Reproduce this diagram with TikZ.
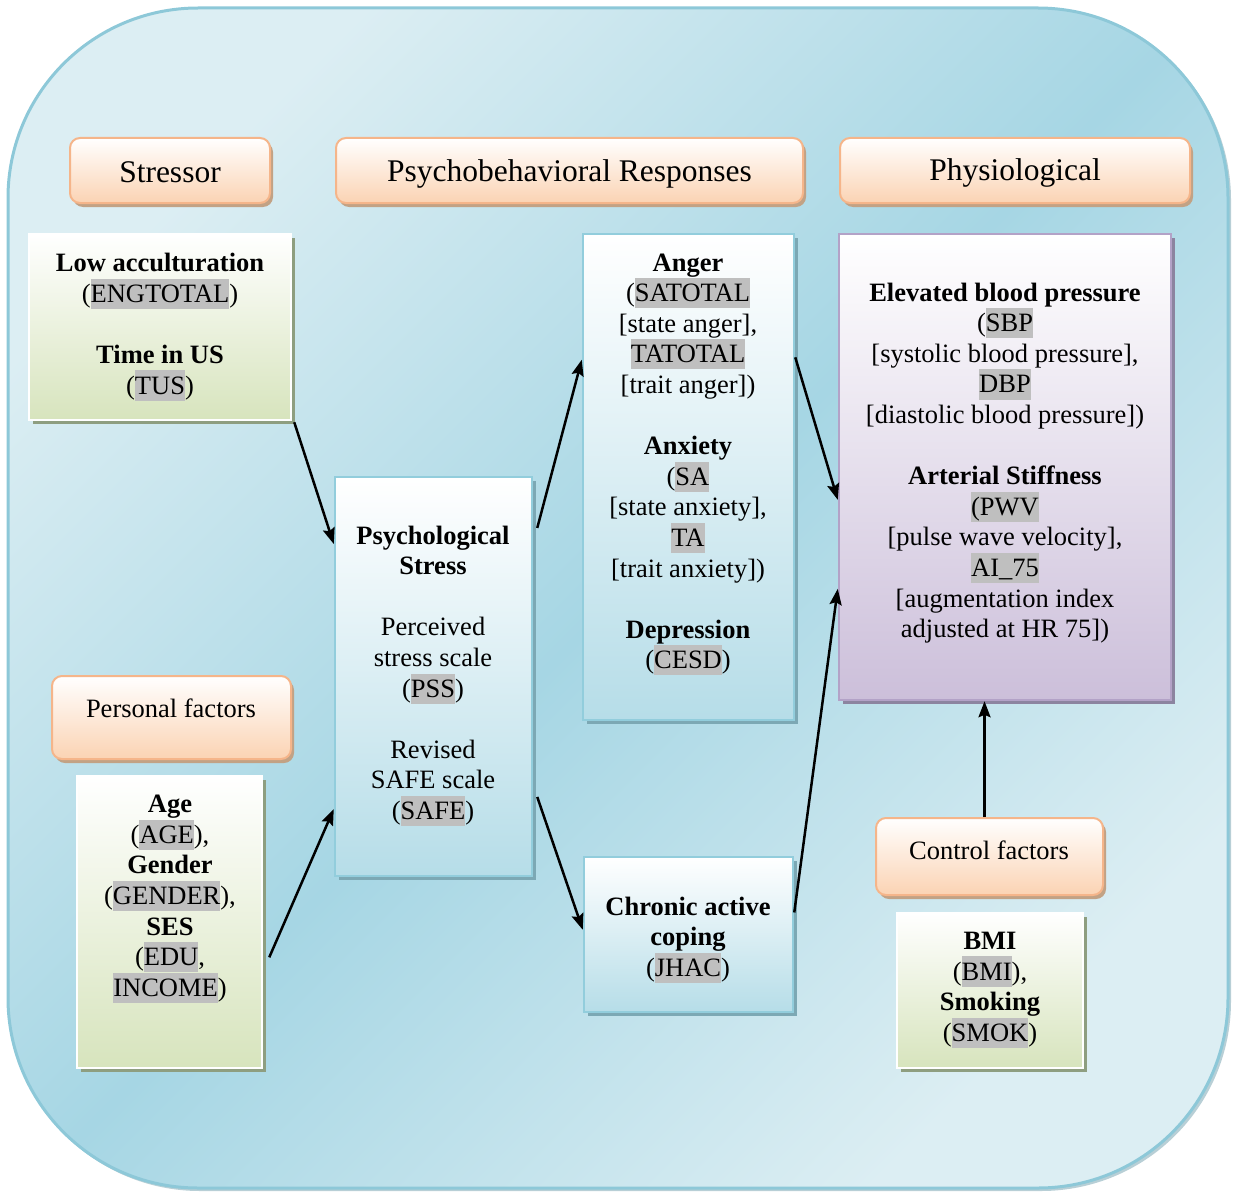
\documentclass[tikz,border=0pt]{standalone}
\usepackage{fontspec}
\setmainfont{Liberation Serif}
\usetikzlibrary{arrows.meta,calc,shadows}
\definecolor{hlgray}{HTML}{BFBFBF}
\definecolor{bglight}{HTML}{DCEEF3}
\definecolor{bgdark}{HTML}{A6D6E4}
\definecolor{bgborder}{HTML}{8DC8D8}
\definecolor{hdrfill}{HTML}{FBD3B3}
\definecolor{hdrborder}{HTML}{F5B58A}
\definecolor{hdrshadow}{HTML}{C2A285}
\definecolor{grnfill}{HTML}{D7E4BD}
\definecolor{grnshadow}{HTML}{8E9E80}
\definecolor{bluefill}{HTML}{B6DDE8}
\definecolor{blueborder}{HTML}{92CDDC}
\definecolor{blueshadow}{HTML}{7CA8B4}
\definecolor{purfill}{HTML}{CCBFDA}
\definecolor{purborder}{HTML}{B3A2C7}
\definecolor{purshadow}{HTML}{8C84A0}
\newcommand\hl[1]{{\setlength{\fboxsep}{0pt}\colorbox{hlgray}{\rule[-0.25em]{0pt}{1.14em}#1}}}
\newcommand\bodyfont{\fontsize{26.5}{30.6}\selectfont\lineskiplimit=-30pt}
\newcommand\hdrfont{\fontsize{31.5}{36}\selectfont}
\tikzset{
  hdrbox/.style={draw=hdrborder, line width=2pt, rounded corners=10pt,
    top color=white, bottom color=hdrfill, inner sep=0pt,
    drop shadow={shadow xshift=3pt, shadow yshift=-4pt, fill=hdrshadow, opacity=1}},
  grnbox/.style={draw=white, line width=2.5pt, top color=white, bottom color=grnfill, inner sep=0pt,
    drop shadow={shadow xshift=4pt, shadow yshift=-4pt, fill=grnshadow, opacity=1}},
  bluebox/.style={draw=blueborder, line width=2.5pt, top color=white, bottom color=bluefill, inner sep=0pt,
    drop shadow={shadow xshift=4pt, shadow yshift=-4pt, fill=blueshadow, opacity=1}},
  purbox/.style={draw=purborder, line width=2.5pt, top color=white, bottom color=purfill, inner sep=0pt,
    drop shadow={shadow xshift=4pt, shadow yshift=-4pt, fill=purshadow, opacity=1}},
  hdrtxt/.style={font=\hdrfont, inner sep=0pt, align=center},
  smalltxt/.style={font=\bodyfont, inner sep=0pt, align=center},
  bodytxt/.style={font=\bodyfont, inner sep=0pt, align=center},
  arr/.style={line width=2.5pt, -{Stealth[length=16pt,width=12pt,inset=2.5pt]}}
}
\begin{document}
\begin{tikzpicture}[x=1pt,y=-1pt]
\useasboundingbox (0,0) rectangle (1233,1193);
% background
\fill[bgborder!80!black, opacity=0.5, rounded corners=190pt] (10,10) rectangle (1231,1191);
\draw[draw=bgborder, line width=3pt, rounded corners=190pt,
  top color=bglight, bottom color=bglight, middle color=bgdark, shading angle=45]
  (8,8) rectangle (1228,1188);

% headers
\node[hdrbox, minimum width=200pt, minimum height=65pt] (hS) at (170,170.5) {};
\node[hdrtxt] (hStxt) at (170,172) {Stressor};
\node[hdrbox, minimum width=467pt, minimum height=65pt] (hP) at (569.5,170.5) {};
\node[hdrtxt] (hPtxt) at (569.5,174) {Psychobehavioral Responses};
\node[hdrbox, minimum width=350pt, minimum height=65pt] (hPh) at (1015,170.5) {};
\node[hdrtxt] (hPhtxt) at (1015,173) {Physiological};
\node[hdrbox, minimum width=239pt, minimum height=83pt] (hPF) at (171.5,717.5) {};
\node[smalltxt] (hPFtxt) at (171,708) {Personal factors};
\node[hdrbox, minimum width=227pt, minimum height=77pt] (hC) at (989.5,856.5) {};
\node[smalltxt] (hCtxt) at (989,850) {Control factors};

% content boxes
\node[grnbox, minimum width=262pt, minimum height=186pt] (low) at (160,327) {};
\node[bodytxt] (lowtxt) at (160,327) {\textbf{Low acculturation}\\(\hl{ENGTOTAL})\\[30.6pt]\textbf{Time in US}\\(\hl{TUS})};

\node[grnbox, minimum width=185pt, minimum height=292pt] (age) at (169.5,922) {};
\node[bodytxt] (agetxt) at (170,899) {\textbf{Age}\\(\hl{AGE}),\\\textbf{Gender}\\(\hl{GENDER}),\\\textbf{SES}\\(\hl{EDU},\\\hl{INCOME})};

\node[grnbox, minimum width=186pt, minimum height=155pt] (bmi) at (990,990.5) {};
\node[bodytxt] (bmitxt) at (990,990) {\textbf{BMI}\\(\hl{BMI}),\\\textbf{Smoking}\\(\hl{SMOK})};

\node[bluebox, minimum width=197pt, minimum height=399pt] (stress) at (433.5,676.5) {};
\node[bodytxt] (stresstxt) at (433,676) {\textbf{Psychological}\\\textbf{Stress}\\[30.6pt]Perceived\\stress scale\\(\hl{PSS})\\[30.6pt]Revised\\SAFE scale\\(\hl{SAFE})};

\node[bluebox, minimum width=211pt, minimum height=486pt] (anger) at (688.5,477) {};
\node[bodytxt] (angertxt) at (688,464.5) {\textbf{Anger}\\(\hl{SATOTAL}\\{[}state anger],\\\hl{TATOTAL}\\{[}trait anger])\\[30.6pt]\textbf{Anxiety}\\(\hl{SA}\\{[}state anxiety],\\\hl{TA}\\{[}trait anxiety])\\[30.6pt]\textbf{Depression}\\(\hl{CESD})};

\node[bluebox, minimum width=209pt, minimum height=155pt] (coping) at (688.5,934.5) {};
\node[bodytxt] (copingtxt) at (688,940) {\textbf{Chronic active}\\\textbf{coping}\\(\hl{JHAC})};

\node[purbox, minimum width=332pt, minimum height=466pt] (physio) at (1005,467) {};
\node[bodytxt] (physiotxt) at (1005,463) {\textbf{Elevated blood pressure}\\(\hl{SBP}\\{[}systolic blood pressure],\\\hl{DBP}\\{[}diastolic blood pressure])\\[30.6pt]\textbf{Arterial Stiffness}\\\hl{(PWV}\\{[}pulse wave velocity],\\\hl{AI\_75}\\{[}augmentation index\\adjusted at HR 75])};

% arrows
\draw[arr] ([shift={(2,1)}]low.south east) -- ($(stress.north west)!0.17!(stress.south west)$);
\draw[arr] ($(age.north east)!0.62!(age.south east)+(6,0)$) -- ($(stress.north west)!0.83!(stress.south west)$);
\draw[arr] ($(stress.north east)!0.13!(stress.south east)+(4,0)$) -- ($(anger.north west)!0.26!(anger.south west)$);
\draw[arr] ($(stress.north east)!0.80!(stress.south east)+(4,0)$) -- ($(coping.north west)!0.47!(coping.south west)$);
\draw[arr] ($(anger.north east)!0.255!(anger.south east)$) -- ($(physio.north west)!0.57!(physio.south west)$);
\draw[arr] ($(coping.north east)!0.36!(coping.south east)$) -- ($(physio.north west)!0.76!(physio.south west)$);
\draw[arr] ([xshift=-5pt]hC.north) -- ([xshift=-5pt]hC.north |- physio.south);
\end{tikzpicture}
\end{document}
